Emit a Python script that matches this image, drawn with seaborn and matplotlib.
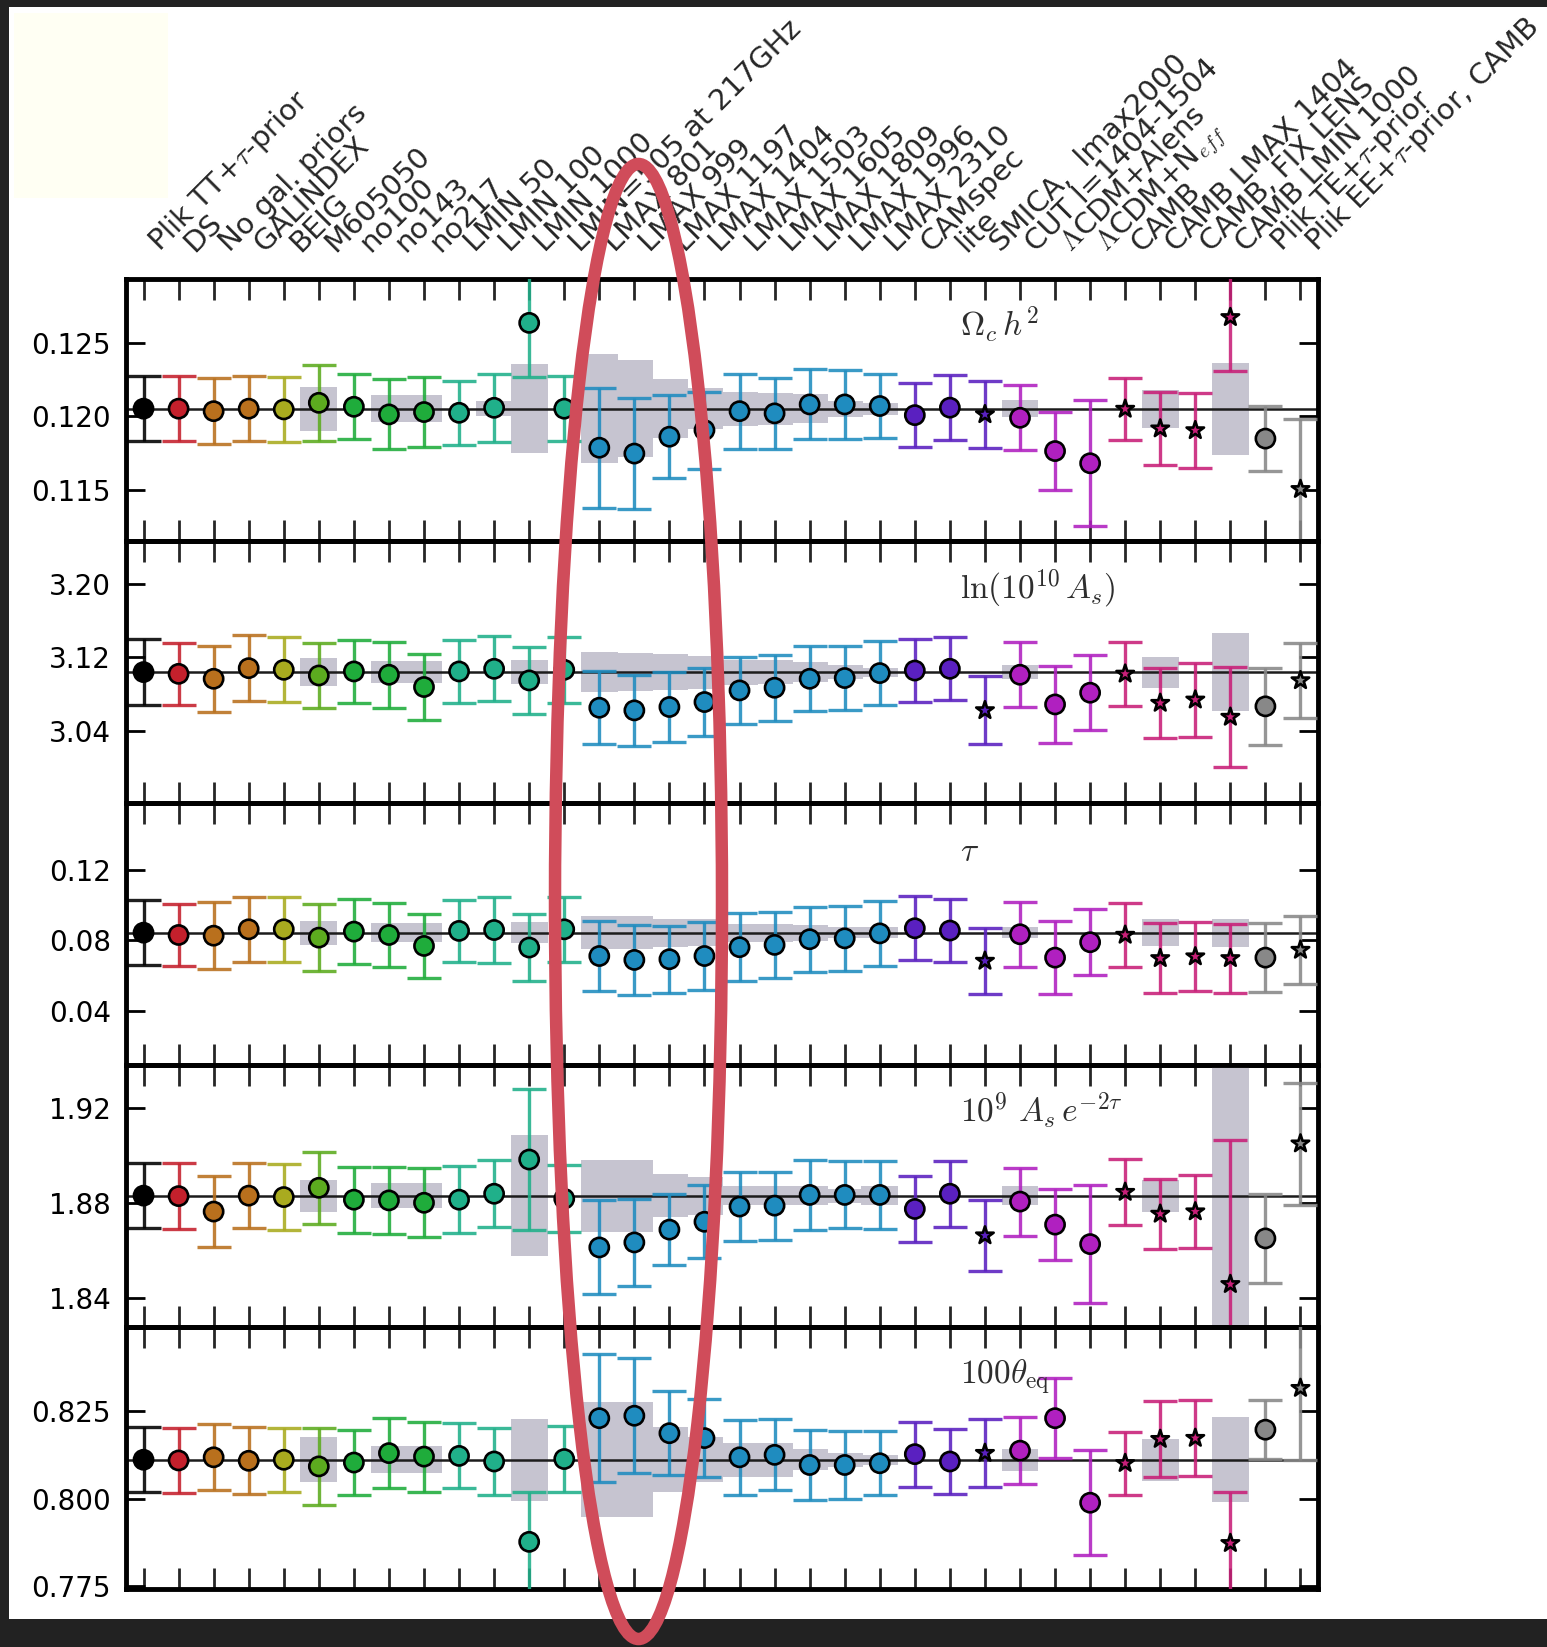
import matplotlib
matplotlib.use("Agg")
import matplotlib.pyplot as plt
from matplotlib.patches import Ellipse, Rectangle
from matplotlib.transforms import ScaledTranslation
import numpy as np
import pandas as pd
import seaborn as sns

# ---------------------------------------------------------------- runs
runs = [
    r"Plik TT+$\tau$-prior", "DS", "No gal. priors", "GALINDEX", "BEIG", "M605050",
    "no100", "no143", "no217", "LMIN 50", "LMIN 100", "LMIN 1000", "LMIN=505 at 217GHz",
    "LMAX 801", "LMAX 999", "LMAX 1197", "LMAX 1404", "LMAX 1503", "LMAX 1605",
    "LMAX 1809", "LMAX 1996", "LMAX 2310", "CAMspec", "lite", "SMICA,  lmax2000",
    "CUT l=1404-1504", r"$\Lambda$CDM+Alens", r"$\Lambda$CDM+N$_{eff}$", "CAMB",
    "CAMB LMAX 1404", "CAMB, FIX LENS", "CAMB LMIN 1000", r"Plik TE+$\tau$-prior",
    r"Plik EE+$\tau$-prior, CAMB",
]

family = (["base", "ds", "gal", "gal", "beig", "mask", "freq", "freq", "freq",
           "lmin", "lmin", "lmin", "lmin"] + ["lmax"] * 9 + ["code"] * 3
          + ["ext"] * 3 + ["camb"] * 4 + ["pol"] * 2)

marker_kind = (["circle"] * 24 + ["star"] + ["circle"] * 3 + ["star"] * 4
               + ["circle", "star"])

family_colors = {
    "base": "#000000", "ds": "#c4202c", "gal": "#b9701d", "beig": "#a9ab1f",
    "mask": "#5cab1f", "freq": "#1fac3b", "lmin": "#20b08a", "lmax": "#1f8cbf",
    "code": "#5a20c0", "ext": "#b020c0", "camb": "#c81f78", "pol": "#888888",
}

# ---------------------------------------------------------------- Omega_c h^2
omch2 = [0.12052, 0.12052, 0.12035, 0.12052, 0.12047, 0.12092, 0.12065, 0.12013,
         0.12029, 0.12024, 0.12058, 0.12637, 0.12052, 0.11786, 0.11746, 0.11861,
         0.11906, 0.12035, 0.12020, 0.12081, 0.12081, 0.12070, 0.12008, 0.12059,
         0.12013, 0.11990, 0.11763, 0.11680, 0.12050, 0.11916, 0.11904, 0.12675,
         0.11848, 0.11503]
omch2_err = [0.0022, 0.0022, 0.00223, 0.0022, 0.0022, 0.0026, 0.00223, 0.00238,
             0.00236, 0.0022, 0.0023, 0.0037, 0.0022, 0.0041, 0.0038, 0.00284,
             0.00263, 0.00255, 0.0024, 0.00239, 0.00236, 0.0022, 0.00218, 0.0022,
             0.0023, 0.00223, 0.00264, 0.0043, 0.00214, 0.0025, 0.00257, 0.00368,
             0.0022, 0.00476]
omch2_shift = [0, 0, 0, 0, 0, 0.0015, 0, 0.00094, 0.00094, 0, 0.0005, 0.00305, 0,
               0.0037, 0.0033, 0.0020, 0.0014, 0.00117, 0.0011, 0.00097, 0.00055,
               0.0004, 0, 0, 0, 0.0006, 0, 0, 0, 0.0013, 0, 0.00314, 0, 0]

# ---------------------------------------------------------------- ln(10^10 A_s)
lnAs = [3.1039, 3.1020, 3.0966, 3.1082, 3.1064, 3.1002, 3.1046, 3.1010, 3.0876,
        3.1046, 3.1075, 3.0948, 3.1064, 3.0650, 3.0621, 3.0658, 3.0712, 3.0839,
        3.0868, 3.0966, 3.0974, 3.1028, 3.1056, 3.1075, 3.0621, 3.1010, 3.0686,
        3.0814, 3.1020, 3.0701, 3.0737, 3.0549, 3.0665, 3.0948]
lnAs_err = [0.0357, 0.034, 0.036, 0.036, 0.0354, 0.0357, 0.0348, 0.0359, 0.0357,
            0.034, 0.0357, 0.037, 0.0357, 0.040, 0.039, 0.0377, 0.0375, 0.037,
            0.0363, 0.0356, 0.0354, 0.0348, 0.0345, 0.0346, 0.0372, 0.0354, 0.0417,
            0.0412, 0.035, 0.0385, 0.0403, 0.0544, 0.042, 0.041]
lnAs_shift = [0, 0, 0, 0, 0, 0.015, 0, 0.012, 0.012, 0, 0, 0.013, 0, 0.022, 0.021,
              0.020, 0.018, 0.0136, 0.013, 0.011, 0.008, 0.005, 0, 0, 0, 0.0073, 0,
              0, 0, 0.017, 0, 0.043, 0, 0]

# ---------------------------------------------------------------- tau
tau = [0.0843, 0.0830, 0.0826, 0.0862, 0.0862, 0.0815, 0.0849, 0.0830, 0.0768,
       0.0853, 0.0858, 0.0759, 0.0862, 0.0711, 0.0689, 0.0693, 0.0711, 0.0761,
       0.0774, 0.0806, 0.0811, 0.0839, 0.0868, 0.0855, 0.0683, 0.0834, 0.0702,
       0.0789, 0.0830, 0.0698, 0.0708, 0.0698, 0.0702, 0.0745]
tau_err = [0.0185, 0.0177, 0.0188, 0.0183, 0.0183, 0.019, 0.0182, 0.0183, 0.018,
           0.0174, 0.0184, 0.0192, 0.0185, 0.0196, 0.0197, 0.019, 0.0193, 0.0193,
           0.0186, 0.0183, 0.0183, 0.0183, 0.018, 0.0179, 0.0188, 0.0185, 0.0207,
           0.0188, 0.0183, 0.0197, 0.0197, 0.0196, 0.0195, 0.0193]
tau_shift = [0, 0, 0, 0, 0, 0.0068, 0, 0.0054, 0.0054, 0, 0, 0.006, 0, 0.0092,
             0.0092, 0.008, 0.0075, 0.005, 0.005, 0.0045, 0.003, 0.003, 0, 0, 0,
             0.003, 0, 0, 0, 0.0075, 0, 0.008, 0, 0]

# ---------------------------------------------------------------- 10^9 A_s e^{-2tau}
Ase = [1.8833, 1.8831, 1.8766, 1.8833, 1.8827, 1.8866, 1.8816, 1.8813, 1.8803,
       1.8816, 1.8841, 1.8985, 1.8820, 1.8615, 1.8636, 1.8690, 1.8723, 1.8787,
       1.8791, 1.8836, 1.8836, 1.8836, 1.8777, 1.8841, 1.8665, 1.8808, 1.8711,
       1.8629, 1.8848, 1.8756, 1.8766, 1.8460, 1.8653, 1.9052]
Ase_err = [0.0138, 0.0139, 0.015, 0.0138, 0.0138, 0.0152, 0.0139, 0.0142, 0.0145,
           0.0141, 0.0141, 0.0296, 0.014, 0.0198, 0.0183, 0.015, 0.0153, 0.0147,
           0.0143, 0.0148, 0.0141, 0.0144, 0.014, 0.0138, 0.0151, 0.0143, 0.0151,
           0.0247, 0.0139, 0.0148, 0.0152, 0.0606, 0.0188, 0.0257]
Ase_shift = [0, 0, 0, 0, 0, 0.0067, 0, 0.0054, 0.0054, 0, 0, 0.0256, 0, 0.0152,
             0.0152, 0.009, 0.008, 0.0039, 0.0039, 0.004, 0.003, 0.004, 0, 0, 0,
             0.004, 0, 0, 0, 0.0067, 0, 0.07, 0, 0]

# ---------------------------------------------------------------- 100 theta_eq
theta_eq = [0.8111, 0.8109, 0.8118, 0.8108, 0.8111, 0.8092, 0.8103, 0.8130, 0.8120,
            0.8122, 0.8106, 0.7876, 0.8113, 0.8230, 0.8237, 0.8187, 0.8173, 0.8118,
            0.8125, 0.8096, 0.8096, 0.8101, 0.8127, 0.8106, 0.8130, 0.8137, 0.8230,
            0.7988, 0.8101, 0.8170, 0.8173, 0.7872, 0.8197, 0.8316]
theta_eq_err = [0.0093, 0.0093, 0.0094, 0.0096, 0.0092, 0.011, 0.0094, 0.010, 0.010,
                0.0093, 0.0097, 0.0144, 0.0095, 0.0184, 0.0165, 0.012, 0.0111,
                0.0107, 0.0102, 0.010, 0.0096, 0.0092, 0.0093, 0.0092, 0.0097,
                0.0095, 0.0115, 0.015, 0.009, 0.0108, 0.0109, 0.0146, 0.0085, 0.0206]
theta_eq_shift = [0, 0, 0, 0, 0, 0.0064, 0, 0.0039, 0.0039, 0, 0, 0.0118, 0,
                  0.0164, 0.0164, 0.0093, 0.0065, 0.0048, 0.0048, 0.003, 0.002,
                  0.0015, 0, 0, 0, 0.0031, 0, 0, 0, 0.006, 0, 0.0122, 0, 0]

panels = [
    (r"$\Omega_c\, h^2$", omch2, omch2_err, omch2_shift, (0.1115, 0.12936),
     [0.115, 0.120, 0.125], ["0.115", "0.120", "0.125"]),
    (r"$\ln(10^{10}\, A_s)$", lnAs, lnAs_err, lnAs_shift, (2.961, 3.247),
     [3.04, 3.12, 3.20], ["3.04", "3.12", "3.20"]),
    (r"$\tau$", tau, tau_err, tau_shift, (0.0095, 0.1576),
     [0.04, 0.08, 0.12], ["0.04", "0.08", "0.12"]),
    (r"$10^9\ A_s\, e^{-2\tau}$", Ase, Ase_err, Ase_shift, (1.828, 1.9383),
     [1.84, 1.88, 1.92], ["1.84", "1.88", "1.92"]),
    (r"$100\theta_{\rm eq}$", theta_eq, theta_eq_err, theta_eq_shift,
     (0.7741, 0.8491), [0.775, 0.800, 0.825], ["0.775", "0.800", "0.825"]),
]

# ---------------------------------------------------------------- style
sns.set_theme(style="white")
plt.rcParams["font.family"] = ["DejaVu Sans"]
plt.rcParams["mathtext.fontset"] = "cm"

W, H = 1547, 1647
fig = plt.figure(figsize=(W / 100, H / 100), dpi=100, facecolor="#222222")
fig.add_artist(Rectangle((9 / W, 1 - 1619 / H), 1 - 9 / W, (1619 - 7) / H,
                         transform=fig.transFigure, facecolor="white",
                         edgecolor="none", zorder=-10))
fig.add_artist(Rectangle((14 / W, 1 - 198 / H), 154 / W, 185 / H,
                         transform=fig.transFigure, facecolor="#fffff3",
                         edgecolor="none", zorder=-9))

axes = fig.subplots(5, 1, sharex=True)
fig.subplots_adjust(left=126 / W, right=1318 / W, top=1 - 279 / H,
                    bottom=1 - 1589 / H, hspace=0)

pos = np.arange(len(runs))

for ax, (label, vals, errs, shift, ylim, yticks, ytlabels) in zip(axes, panels):
    ax.set_facecolor("none")
    vals = np.asarray(vals)
    errs = np.asarray(errs)
    shift = np.asarray(shift)
    fid = vals[0]

    # expected-shift boxes around the baseline value
    ax.bar(pos, 2 * shift, bottom=fid - shift, width=1.05, color="#c6c4d0",
           linewidth=0, zorder=1)
    ax.axhline(fid, color="#1c1c1c", lw=1.8, zorder=2)

    for i in pos:
        ax.errorbar(pos[i], vals[i], yerr=errs[i], fmt="none",
                    ecolor=family_colors[family[i]], elinewidth=2.4,
                    capsize=12, capthick=2.4, alpha=0.88, zorder=3)

    df = pd.DataFrame({"pos": pos, "value": vals, "family": family,
                       "kind": marker_kind})
    sns.scatterplot(data=df, x="pos", y="value", hue="family", style="kind",
                    size="kind", sizes={"circle": 190, "star": 175},
                    markers={"circle": "o", "star": "*"},
                    palette=family_colors, edgecolor="black", linewidth=1.9,
                    legend=False, ax=ax, zorder=4)

    ax.set_xlabel("")
    ax.set_ylabel("")
    ax.set_xlim(-0.5, len(runs) - 0.5)
    ax.set_ylim(*ylim)
    ax.set_yticks(yticks)
    ax.set_yticklabels(ytlabels)
    ax.tick_params(axis="y", direction="in", length=14, width=2, left=True,
                   right=True, labelsize=20, pad=11, colors="black")
    ax.tick_params(axis="x", direction="in", length=15, width=2, top=True,
                   bottom=True, labelbottom=False, labeltop=False)
    for sp in ax.spines.values():
        sp.set_linewidth(3.5)
        sp.set_color("black")
    ax.text(0.70, 0.78, label, transform=ax.transAxes, ha="left",
            va="baseline", fontsize=24, color="#2e2e2e")

axes[0].set_xticks(pos)
axes[0].set_xticklabels(runs)
axes[0].tick_params(axis="x", labeltop=True, pad=19, labelsize=21)
shift_right = ScaledTranslation(16 / 100, 0, fig.dpi_scale_trans)
for tick in axes[0].xaxis.get_major_ticks():
    t = tick.label2
    t.set_rotation(45)
    t.set_rotation_mode("anchor")
    t.set_ha("left")
    t.set_va("baseline")
    t.set_transform(t.get_transform() + shift_right)

fig.add_artist(Ellipse((638.5 / W, 1 - 901.5 / H), 167 / W, 1475 / H,
                       transform=fig.transFigure, fill=False,
                       edgecolor="#d04c5a", linewidth=9, zorder=20))

fig.savefig("out.png", dpi=100, facecolor=fig.get_facecolor())
